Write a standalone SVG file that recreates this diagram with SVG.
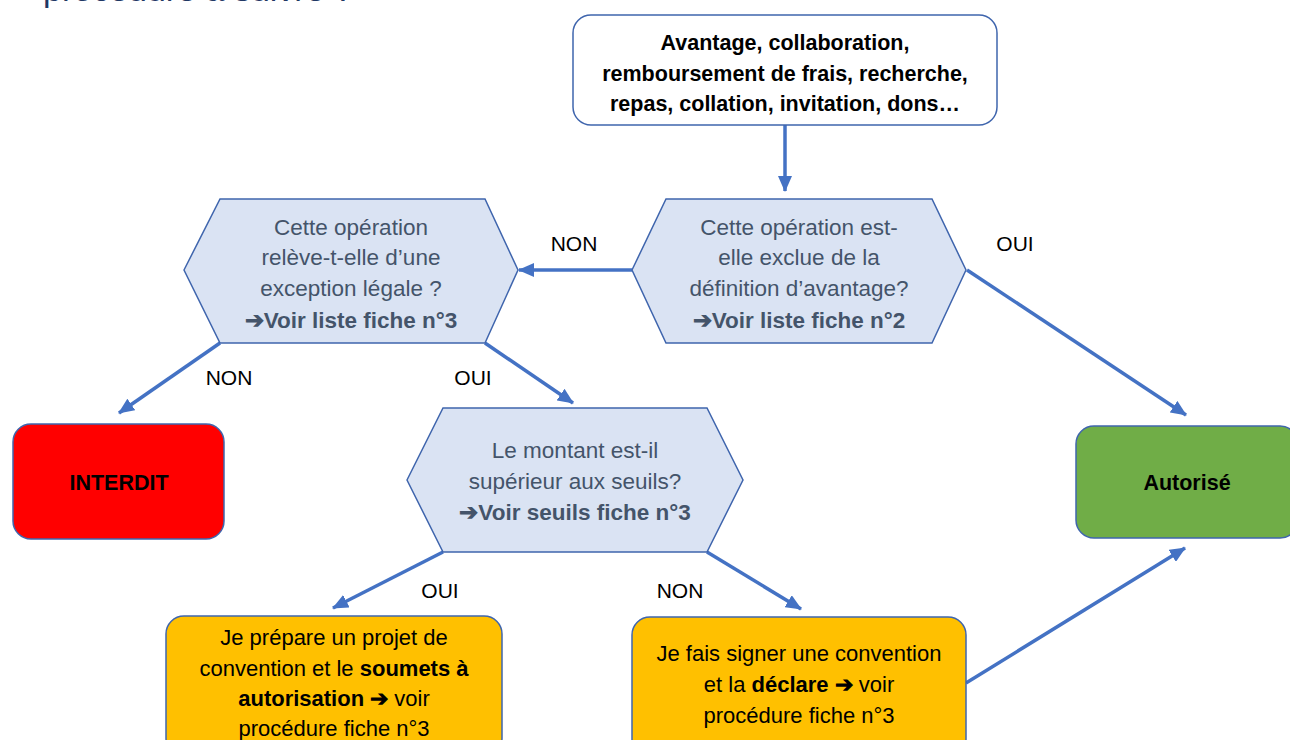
<svg xmlns="http://www.w3.org/2000/svg" width="1290" height="740" viewBox="0 0 1290 740">
<defs>
<marker id="ah" markerUnits="userSpaceOnUse" markerWidth="16" markerHeight="14" viewBox="0 0 16 14" refX="15" refY="7" orient="auto">
<path d="M0,0 L16,7 L0,14 z" fill="#4472c4"/>
</marker>
<style>
text{font-family:"Liberation Sans",Arial,sans-serif;}
.hex{fill:#dae3f3;stroke:#3f65ad;stroke-width:1.5;}
.box{stroke:#3f65ad;stroke-width:1.5;}
.q{fill:#44546a;font-size:22.5px;text-anchor:middle;}
.b{font-weight:bold;}
.t{fill:#000;font-size:22px;text-anchor:middle;}
.tb{fill:#000;font-size:21.5px;text-anchor:middle;font-weight:bold;}
.lbl{fill:#000;font-size:21px;text-anchor:middle;}
.c{fill:none;stroke:#4472c4;stroke-width:3.5;marker-end:url(#ah);}
</style>
</defs>
<rect width="1290" height="740" fill="#fff"/>
<text x="43" y="1" fill="#1f3864" font-size="34">procédure à suivre ?</text>

<g id="connectors">
<line class="c" x1="785" y1="125" x2="785" y2="191"/>
<line class="c" x1="632" y1="270" x2="519" y2="270"/>
<line class="c" x1="967" y1="270" x2="1186" y2="415"/>
<line class="c" x1="220" y1="343" x2="119" y2="413"/>
<line class="c" x1="485" y1="343" x2="573" y2="403"/>
<line class="c" x1="443" y1="552" x2="333" y2="608"/>
<line class="c" x1="707" y1="552" x2="801" y2="609"/>
<line class="c" x1="966" y1="683" x2="1185" y2="548"/>
<text class="lbl" x="574" y="251">NON</text>
<text class="lbl" x="1015" y="251">OUI</text>
<text class="lbl" x="229" y="385">NON</text>
<text class="lbl" x="473" y="385">OUI</text>
<text class="lbl" x="440" y="598">OUI</text>
<text class="lbl" x="680" y="598">NON</text>
</g>

<g id="start">
<rect class="box" x="573" y="15" width="424" height="110" rx="18" fill="#fff"/>
<text class="tb" x="785" y="50">Avantage, collaboration,</text>
<text class="tb" x="785" y="81">remboursement de frais, recherche,</text>
<text class="tb" x="785" y="111">repas, collation, invitation, dons…</text>
</g>

<g id="q-exclue">
<polygon class="hex" points="632,270 666,199 932,199 966,270 932,343 666,343"/>
<text class="q" x="799" y="235">Cette opération est-</text>
<text class="q" x="799" y="265">elle exclue de la</text>
<text class="q" x="799" y="296">définition d’avantage?</text>
<text class="q b" x="799" y="328">➔Voir liste fiche n°2</text>
</g>

<g id="q-exception">
<polygon class="hex" points="184,270 220,199 485,199 518,270 485,343 220,343"/>
<text class="q" x="351" y="235">Cette opération</text>
<text class="q" x="351" y="265">relève-t-elle d’une</text>
<text class="q" x="351" y="296">exception légale ?</text>
<text class="q b" x="351" y="328">➔Voir liste fiche n°3</text>
</g>

<g id="q-montant">
<polygon class="hex" points="407,480 443,408 707,408 743,480 707,552 443,552"/>
<text class="q" x="575" y="458">Le montant est-il</text>
<text class="q" x="575" y="489">supérieur aux seuils?</text>
<text class="q b" x="575" y="520">➔Voir seuils fiche n°3</text>
</g>

<g id="interdit">
<rect class="box" x="13" y="424" width="211" height="115" rx="18" fill="#ff0000"/>
<text class="tb" x="119" y="490">INTERDIT</text>
</g>

<g id="autorise">
<rect class="box" x="1076" y="426" width="222" height="112" rx="18" fill="#70ad47"/>
<text class="tb" x="1187" y="490">Autorisé</text>
</g>

<g id="soumettre">
<rect class="box" x="166" y="616" width="336" height="140" rx="18" fill="#ffc000"/>
<text class="t" x="334" y="645">Je prépare un projet de</text>
<text class="t" x="334" y="676">convention et le <tspan class="b">soumets à</tspan></text>
<text class="t" x="334" y="706"><tspan class="b">autorisation ➔</tspan> voir</text>
<text class="t" x="334" y="736">procédure fiche n°3</text>
</g>

<g id="declarer">
<rect class="box" x="632" y="617" width="334" height="140" rx="18" fill="#ffc000"/>
<text class="t" x="799" y="661">Je fais signer une convention</text>
<text class="t" x="799" y="692">et la <tspan class="b">déclare ➔</tspan> voir</text>
<text class="t" x="799" y="723">procédure fiche n°3</text>
</g>
</svg>
